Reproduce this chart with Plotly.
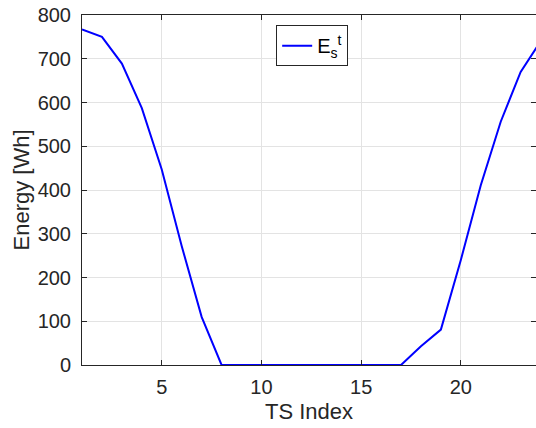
import plotly.graph_objects as go

ts_index = list(range(1, 25))
energy = [767, 750, 689, 587, 447, 272, 110, 0, 0, 0, 0, 0, 0, 0, 0, 0, 0, 43, 81, 240, 411, 556, 670, 740]
x_ticks = [5, 10, 15, 20]
y_ticks = [0, 100, 200, 300, 400, 500, 600, 700, 800]

dark = "#262626"
grid = "#e3e3e3"
font = "Liberation Sans, Arial, Helvetica, sans-serif"

fig = go.Figure()
fig.add_trace(go.Scatter(
    x=ts_index, y=energy, mode="lines",
    line=dict(color="#0000ff", width=2),
    name="E<sub>s</sub><sup>t</sup>",
))

fig.update_layout(
    width=536, height=428,
    margin=dict(l=82, r=0, t=15, b=63),
    paper_bgcolor="white", plot_bgcolor="white",
    font=dict(family=font, size=20, color=dark),
    showlegend=True,
    legend=dict(
        x=0.507, y=0.971, xanchor="center", yanchor="top",
        bgcolor="white", bordercolor=dark, borderwidth=1,
        font=dict(size=20, color="black"),
        itemwidth=30, tracegroupgap=0,
    ),
)
fig.update_xaxes(
    range=[1, 23.77], tickvals=x_ticks, ticks="inside", ticklen=5,
    tickcolor=dark, showline=True, linecolor=dark, linewidth=1, mirror="ticks",
    showgrid=True, gridcolor=grid, gridwidth=1, zeroline=False,
    tickfont=dict(size=20, color=dark), ticklabelstandoff=4,
    title=dict(text="TS Index", font=dict(size=22, color=dark), standoff=6),
)
fig.update_yaxes(
    range=[0, 800], tickvals=y_ticks, ticks="inside", ticklen=5,
    tickcolor=dark, showline=True, linecolor=dark, linewidth=1, mirror="ticks",
    showgrid=True, gridcolor=grid, gridwidth=1, zeroline=False,
    tickfont=dict(size=20, color=dark), ticklabelstandoff=6,
    title=dict(text="Energy [Wh]", font=dict(size=22, color=dark), standoff=1),
)

fig.write_html("out.html")
